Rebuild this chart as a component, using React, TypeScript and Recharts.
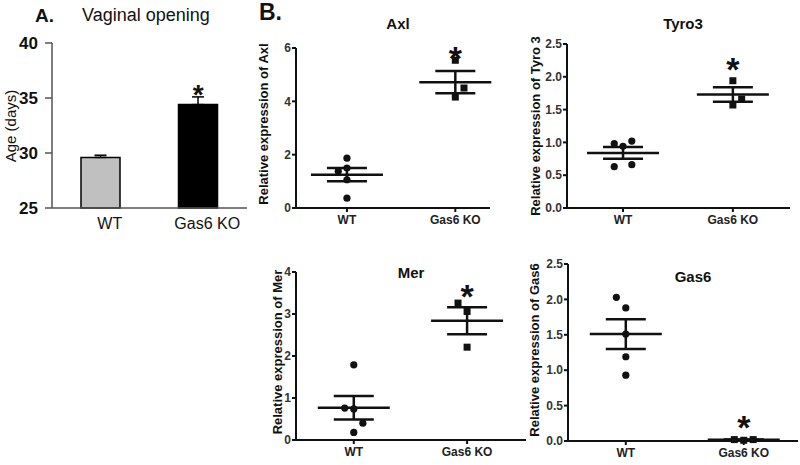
import React from 'react';
import {
  ComposedChart,
  ScatterChart,
  Bar,
  Cell,
  Scatter,
  XAxis,
  YAxis,
  ErrorBar,
} from 'recharts';

const FONT = '"Liberation Sans", Arial, sans-serif';

const groups = ['WT', 'Gas6 KO'];

// A. age at vaginal opening (mean, SEM)
const openingAge = [29.6, 34.4];
const openingSem = [0.2, 0.7];
const openingStars = [null, 35.9];
const openingTicks = [25, 30, 35, 40];

// B. relative expression, one value per animal
const axlWT = [1.87, 1.38, 1.5, 1.06, 0.37];
const axlKO = [5.54, 4.5, 4.16];
const axlMean = [1.25, 4.72];
const axlSem = [0.25, 0.42];
const axlTicks = [0, 2, 4, 6];
const axlStar = 5.93;

const tyro3WT = [0.98, 1.02, 0.94, 0.63, 0.66];
const tyro3KO = [1.94, 1.66, 1.57];
const tyro3Mean = [0.84, 1.73];
const tyro3Sem = [0.09, 0.11];
const tyro3Ticks = [0, 0.5, 1, 1.5, 2, 2.5];
const tyro3Star = 2.23;

const merWT = [1.79, 0.76, 0.74, 0.4, 0.18];
const merKO = [3.26, 3.06, 2.21];
const merMean = [0.77, 2.84];
const merSem = [0.28, 0.32];
const merTicks = [0, 1, 2, 3, 4];
const merStar = 3.62;

const gas6WT = [2.03, 1.88, 1.51, 1.19, 0.93];
const gas6KO = [0.02, 0.01, 0.02];
const gas6Mean = [1.51, 0.017];
const gas6Sem = [0.21, 0.004];
const gas6Ticks = [0, 0.5, 1, 1.5, 2, 2.5];
const gas6Star = 0.3;

// horizontal scatter of the animals inside a group (in group units)
const axlWTJitter = [0, -0.08, 0, 0, 0];
const axlKOJitter = [0, 0.08, 0];
const tyro3WTJitter = [-0.08, 0.08, 0, -0.08, 0.08];
const tyro3KOJitter = [0, 0.08, 0];
const merWTJitter = [0, -0.08, 0, 0.08, 0];
const merKOJitter = [-0.08, 0, 0];
const gas6WTJitter = [-0.08, 0, 0, 0, 0];
const gas6KOJitter = [-0.08, 0, 0.08];

const openingData = groups.map((g, i) => ({
  group: g,
  age: openingAge[i],
  err: [0, openingSem[i]],
  star: openingStars[i],
}));

const star = (size: number) => (p: any) =>
  p.cx == null || p.cy == null ? <g /> : (
    <text
      x={p.cx}
      y={p.cy + size * 0.58}
      textAnchor="middle"
      fontSize={size}
      fontWeight="bold"
      fontFamily={FONT}
      fill="#111"
    >
      *
    </text>
  );

const meanLine = (p: any) => (
  <line x1={p.cx - 36} x2={p.cx + 36} y1={p.cy} y2={p.cy} stroke="#111" strokeWidth={2.5} />
);
const dot = (p: any) => <circle cx={p.cx} cy={p.cy} r={3.6} fill="#111" />;
const square = (p: any) => <rect x={p.cx - 3.5} y={p.cy - 3.5} width={7} height={7} fill="#111" />;

type Panel = {
  wt: number[];
  ko: number[];
  wtJitter: number[];
  koJitter: number[];
  mean: number[];
  sem: number[];
  ticks: number[];
  star: number;
  decimals: number;
  box: { x: number; y: number; w: number; h: number };
  xDomain: [number, number];
};

const panels: Panel[] = [
  {
    wt: axlWT, ko: axlKO, wtJitter: axlWTJitter, koJitter: axlKOJitter,
    mean: axlMean, sem: axlSem, ticks: axlTicks, star: axlStar, decimals: 0,
    box: { x: 296, y: 48, w: 194, h: 160 }, xDomain: [0.53, 2.32],
  },
  {
    wt: tyro3WT, ko: tyro3KO, wtJitter: tyro3WTJitter, koJitter: tyro3KOJitter,
    mean: tyro3Mean, sem: tyro3Sem, ticks: tyro3Ticks, star: tyro3Star, decimals: 1,
    box: { x: 567, y: 44, w: 223, h: 164 }, xDomain: [0.49, 2.52],
  },
  {
    wt: merWT, ko: merKO, wtJitter: merWTJitter, koJitter: merKOJitter,
    mean: merMean, sem: merSem, ticks: merTicks, star: merStar, decimals: 0,
    box: { x: 296, y: 272, w: 230, h: 168 }, xDomain: [0.49, 2.52],
  },
  {
    wt: gas6WT, ko: gas6KO, wtJitter: gas6WTJitter, koJitter: gas6KOJitter,
    mean: gas6Mean, sem: gas6Sem, ticks: gas6Ticks, star: gas6Star, decimals: 1,
    box: { x: 568, y: 264, w: 230, h: 177 }, xDomain: [0.51, 2.46],
  },
];

const DotPlot = ({ p }: { p: Panel }) => {
  const ml = 50;
  const mt = 14;
  const mr = 2;
  const xh = 28;
  const wtData = p.wt.map((v, i) => ({ x: 1 + p.wtJitter[i], y: v }));
  const koData = p.ko.map((v, i) => ({ x: 2 + p.koJitter[i], y: v }));
  const meanData = p.mean.map((m, i) => ({ x: i + 1, y: m, sem: p.sem[i] }));
  const starData = [{ x: 2, y: p.star }];
  const axisStyle = { stroke: '#111', strokeWidth: 2 };
  return (
    <div style={{ position: 'absolute', left: p.box.x - ml, top: p.box.y - mt }}>
      <ScatterChart
        width={p.box.w + ml + mr}
        height={p.box.h + mt + xh}
        margin={{ top: mt, right: mr, bottom: 0, left: 0 }}
      >
        <XAxis
          type="number"
          dataKey="x"
          domain={p.xDomain}
          ticks={[1, 2]}
          tickFormatter={(v: number) => groups[Math.round(v) - 1]}
          height={xh}
          axisLine={axisStyle}
          tickLine={axisStyle}
          tickSize={4}
          tickMargin={3}
          tick={{ fontSize: 12, fontWeight: 'bold', fill: '#222', fontFamily: FONT }}
        />
        <YAxis
          type="number"
          dataKey="y"
          width={ml}
          domain={[0, p.ticks[p.ticks.length - 1]]}
          ticks={p.ticks}
          tickFormatter={(v: number) => v.toFixed(p.decimals)}
          axisLine={axisStyle}
          tickLine={axisStyle}
          tickSize={4}
          tickMargin={1}
          tick={{ fontSize: 12, fontWeight: 'bold', fill: '#333', fontFamily: FONT }}
        />
        <Scatter data={meanData} shape={meanLine} isAnimationActive={false}>
          <ErrorBar dataKey="sem" direction="y" width={20} stroke="#111" strokeWidth={2.5} />
        </Scatter>
        <Scatter data={wtData} shape={dot} isAnimationActive={false} />
        <Scatter data={koData} shape={square} isAnimationActive={false} />
        <Scatter data={starData} shape={star(34)} isAnimationActive={false} />
      </ScatterChart>
    </div>
  );
};

const txt = (
  s: string,
  x: number,
  y: number,
  size: number,
  bold: boolean,
  rotate = false,
  anchor: 'center' | 'left' = 'center'
) => (
  <div
    style={{
      position: 'absolute',
      left: x,
      top: y,
      transform: `translate(${anchor === 'center' ? '-50%' : '0'}, -50%)${rotate ? ' rotate(-90deg)' : ''}`,
      fontSize: size,
      fontWeight: bold ? 'bold' : 'normal',
      lineHeight: 1,
      whiteSpace: 'nowrap',
      color: '#111',
    }}
  >
    {s}
  </div>
);

export default function App() {
  return (
    <div
      style={{
        position: 'absolute',
        left: 0,
        top: 0,
        width: 800,
        height: 465,
        background: '#fff',
        fontFamily: FONT,
        overflow: 'hidden',
      }}
    >
      <div style={{ position: 'absolute', left: 0, top: 0 }}>
        <ComposedChart
          width={260}
          height={240}
          data={openingData}
          margin={{ top: 43, right: 13, bottom: 0, left: 0 }}
        >
          <XAxis
            dataKey="group"
            height={32}
            tickLine={false}
            tickSize={0}
            tickMargin={10}
            axisLine={{ stroke: '#555', strokeWidth: 1.5 }}
            tick={{ fontSize: 16, fill: '#111', fontFamily: FONT, dx: 9 }}
          />
          <YAxis
            domain={[25, 40]}
            ticks={openingTicks}
            width={52}
            tickSize={7}
            tickMargin={7}
            axisLine={{ stroke: '#555', strokeWidth: 1.5 }}
            tickLine={{ stroke: '#555', strokeWidth: 1.5 }}
            tick={{ fontSize: 17, fontWeight: 'bold', fill: '#111', fontFamily: FONT }}
          />
          <Bar dataKey="age" barSize={39} stroke="#000" strokeWidth={1.5} isAnimationActive={false}>
            {openingData.map((d, i) => (
              <Cell key={d.group} fill={i === 0 ? '#c0c0c0' : '#000'} />
            ))}
            <ErrorBar dataKey="err" direction="y" width={6} stroke="#000" strokeWidth={1.5} />
          </Bar>
          <Scatter dataKey="star" shape={star(28)} isAnimationActive={false} />
        </ComposedChart>
      </div>

      {panels.map((p, i) => (
        <DotPlot key={i} p={p} />
      ))}

      {txt('A.', 35, 15, 19, true, false, 'left')}
      {txt('Vaginal opening', 82, 15, 18, false, false, 'left')}
      {txt('Age (days)', 10, 126, 15, false, true)}
      {txt('B.', 259, 12, 23, true, false, 'left')}

      {txt('Axl', 398, 23, 15, true)}
      {txt('Tyro3', 683, 23, 15, true)}
      {txt('Mer', 411, 272, 15, true)}
      {txt('Gas6', 693, 276, 15, true)}

      {txt('Relative expression of Axl', 263, 124, 13, true, true)}
      {txt('Relative expression of Tyro 3', 535, 126, 13, true, true)}
      {txt('Relative expression of Mer', 277, 352, 13, true, true)}
      {txt('Relative expression of Gas6', 534, 350, 13, true, true)}
    </div>
  );
}
